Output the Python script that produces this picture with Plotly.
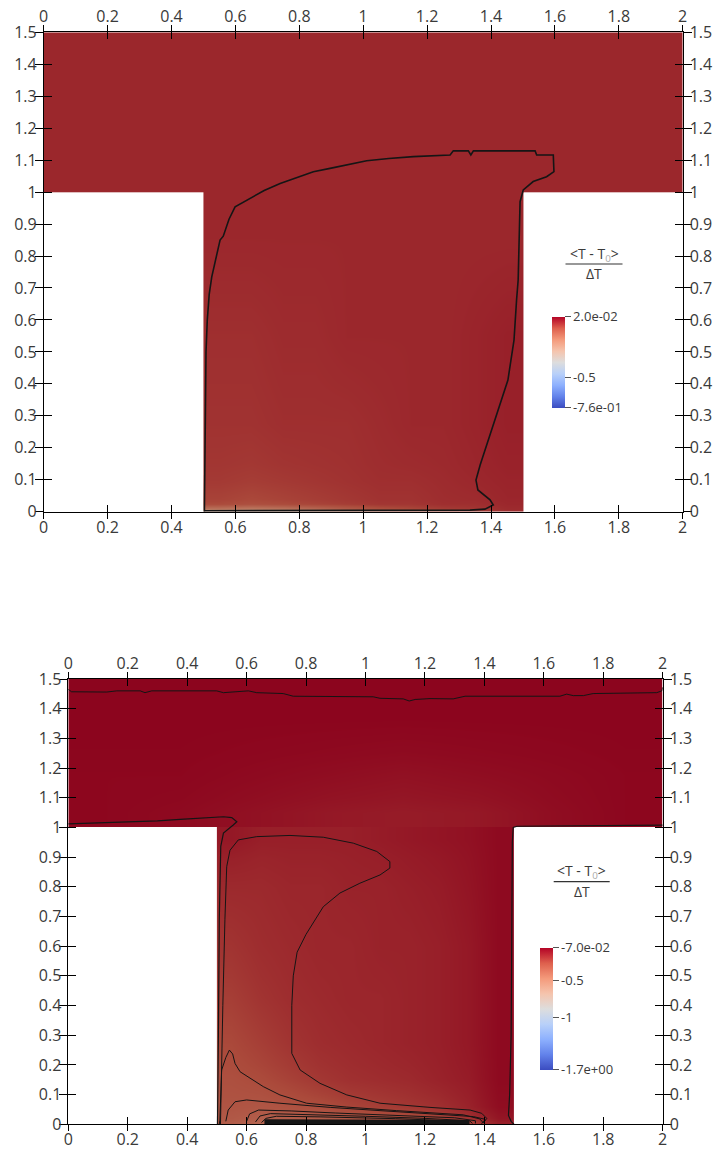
import plotly.graph_objects as go

W, H = 716, 1151

# ---------------- data ----------------
X_TICKS = [0, 0.2, 0.4, 0.6, 0.8, 1.0, 1.2, 1.4, 1.6, 1.8, 2.0]
X_TICK_TEXT = ["0", "0.2", "0.4", "0.6", "0.8", "1", "1.2", "1.4", "1.6", "1.8", "2"]
Y_TICKS = [0, 0.1, 0.2, 0.3, 0.4, 0.5, 0.6, 0.7, 0.8, 0.9, 1.0, 1.1, 1.2, 1.3, 1.4, 1.5]
Y_TICK_TEXT = ["0", "0.1", "0.2", "0.3", "0.4", "0.5", "0.6", "0.7", "0.8", "0.9",
               "1", "1.1", "1.2", "1.3", "1.4", "1.5"]

# colour bar ranges / ticks
TOP_CB_RANGE = [-0.76, 0.02]
TOP_CB_TICKS = [0.02, -0.5, -0.76]
TOP_CB_TEXT = ["2.0e-02", "-0.5", "-7.6e-01"]
BOT_CB_RANGE = [-1.7, -0.07]
BOT_CB_TICKS = [-0.07, -0.5, -1.0, -1.7]
BOT_CB_TEXT = ["-7.0e-02", "-0.5", "-1", "-1.7e+00"]

TOP_BAR_XE = [0.0, 0.5, 1.0, 1.5, 2.0]
TOP_BAR_YE = [1.0, 1.25, 1.5]
TOP_BAR_Z = [[-0.03, -0.03, -0.03, -0.03],
             [-0.03, -0.03, -0.03, -0.03]]
TOP_STEM_XE = [0.5, 0.6, 0.7, 0.8, 0.9, 1.0, 1.1, 1.2, 1.3, 1.4, 1.5]
TOP_STEM_YE = [0.0, 0.01, 0.04, 0.15, 0.4, 0.7, 1.02]
TOP_STEM_Z = [
    [-0.26, -0.28, -0.26, -0.22, -0.17, -0.13, -0.10, -0.08, -0.06, -0.04],
    [-0.08, -0.09, -0.08, -0.07, -0.06, -0.05, -0.05, -0.04, -0.04, -0.03],
    [-0.055, -0.06, -0.055, -0.05, -0.045, -0.04, -0.04, -0.035, -0.03, -0.025],
    [-0.045, -0.045, -0.04, -0.04, -0.04, -0.035, -0.03, -0.03, -0.025, -0.02],
    [-0.04, -0.04, -0.035, -0.035, -0.03, -0.03, -0.03, -0.03, -0.025, -0.02],
    [-0.03, -0.03, -0.03, -0.03, -0.03, -0.03, -0.03, -0.03, -0.03, -0.03],
]

# ---- bottom panel field ----
BOT_BAR_XE = [0.0, 0.25, 0.5, 0.75, 1.0, 1.25, 1.5, 1.75, 2.0]
BOT_BAR_YE = [1.0, 1.1, 1.25, 1.5]
BOT_BAR_Z = [
    [-0.08, -0.09, -0.11, -0.13, -0.14, -0.13, -0.10, -0.08],
    [-0.08, -0.08, -0.09, -0.10, -0.11, -0.10, -0.09, -0.08],
    [-0.075, -0.075, -0.075, -0.075, -0.075, -0.075, -0.075, -0.075],
]
BOT_STEM_XE = [0.5, 0.6, 0.7, 0.8, 0.9, 1.0, 1.1, 1.2, 1.3, 1.4, 1.5]
BOT_STEM_YE = [0.0, 0.02, 0.1, 0.2, 0.35, 0.5, 0.7, 0.9, 1.02]
BOT_STEM_Z = [
    [-0.36, -0.40, -0.42, -0.42, -0.40, -0.38, -0.36, -0.32, -0.25, -0.15],
    [-0.32, -0.33, -0.31, -0.29, -0.26, -0.24, -0.22, -0.20, -0.16, -0.10],
    [-0.30, -0.28, -0.25, -0.22, -0.20, -0.19, -0.18, -0.16, -0.14, -0.09],
    [-0.27, -0.24, -0.21, -0.19, -0.18, -0.17, -0.16, -0.15, -0.13, -0.09],
    [-0.24, -0.21, -0.19, -0.18, -0.17, -0.17, -0.16, -0.15, -0.13, -0.09],
    [-0.21, -0.19, -0.18, -0.17, -0.17, -0.16, -0.16, -0.15, -0.13, -0.09],
    [-0.18, -0.18, -0.17, -0.17, -0.16, -0.16, -0.15, -0.14, -0.12, -0.09],
    [-0.13, -0.15, -0.15, -0.15, -0.15, -0.14, -0.13, -0.12, -0.11, -0.09],
]

# ---- contour lines ----
TOP_C_X = [0.503, 0.504, 0.505, 0.508, 0.512, 0.518, 0.526, 0.540, 0.552, 0.562, 0.580, 0.599,
           0.635, 0.690, 0.740, 0.800, 0.844, 0.900, 0.948, 1.011, 1.080, 1.157, 1.272, 1.282,
           1.329, 1.337, 1.345, 1.538, 1.543, 1.595, 1.597, 1.574, 1.532, 1.501, 1.491, 1.487,
           1.485, 1.480, 1.472, 1.453, 1.422, 1.391, 1.366, 1.353, 1.359, 1.397, 1.407, 1.381,
           1.334, 1.000, 0.700, 0.503]
TOP_C_Y = [0.000, 0.100, 0.300, 0.500, 0.600, 0.680, 0.735, 0.800, 0.850, 0.862, 0.915, 0.954,
           0.975, 1.005, 1.027, 1.048, 1.064, 1.075, 1.085, 1.098, 1.105, 1.111, 1.116, 1.129,
           1.129, 1.116, 1.129, 1.129, 1.116, 1.116, 1.064, 1.048, 1.033, 1.007, 0.970, 0.850,
           0.725, 0.662, 0.537, 0.412, 0.318, 0.224, 0.146, 0.099, 0.068, 0.037, 0.021, 0.008,
           0.005, 0.004, 0.004, 0.003]

B_TOP_X = [0, 0.011, 0.129, 0.163, 0.242, 0.258, 0.281, 0.499, 0.522, 0.578, 0.606, 0.634, 0.723,
           0.757, 0.981, 1.026, 1.049, 1.127, 1.147, 1.167, 1.217, 1.295, 1.335, 1.654, 1.677,
           1.699, 1.733, 1.766, 1.980, 1.997, 2.0]
B_TOP_Y = [1.465, 1.457, 1.456, 1.460, 1.460, 1.454, 1.460, 1.460, 1.454, 1.457, 1.460, 1.454,
           1.451, 1.442, 1.442, 1.440, 1.435, 1.433, 1.426, 1.431, 1.434, 1.433, 1.442, 1.442,
           1.449, 1.444, 1.444, 1.451, 1.454, 1.460, 1.472]

B_LEFT_X = [0.0, 0.1, 0.2, 0.3, 0.376, 0.45, 0.522, 0.550, 0.567, 0.555, 0.522, 0.513, 0.508,
            0.505, 0.503, 0.502]
B_LEFT_Y = [1.012, 1.015, 1.018, 1.022, 1.027, 1.032, 1.036, 1.033, 1.019, 1.008, 0.981, 0.936,
            0.689, 0.300, 0.050, 0.000]

B_RIGHT_X = [2.0, 1.8, 1.6, 1.51, 1.497, 1.494, 1.492, 1.490, 1.485, 1.481, 1.490, 1.500]
B_RIGHT_Y = [1.008, 1.006, 1.005, 1.004, 1.000, 0.950, 0.600, 0.300, 0.100, 0.030, 0.010, 0.000]

B_C_X = [0.512, 0.515, 0.520, 0.527, 0.533, 0.544, 0.572, 0.634, 0.746, 0.858, 0.959, 1.038,
         1.082, 1.082, 1.049, 0.981, 0.914, 0.858, 0.830, 0.800, 0.770, 0.757, 0.752, 0.752,
         0.780, 0.847, 0.937, 1.049, 1.217, 1.352, 1.391, 1.408, 1.402, 1.390]
B_C_Y = [0.000, 0.200, 0.400, 0.689, 0.868, 0.923, 0.958, 0.969, 0.973, 0.967, 0.947, 0.919,
         0.885, 0.863, 0.840, 0.812, 0.779, 0.733, 0.689, 0.640, 0.580, 0.500, 0.400, 0.239,
         0.183, 0.138, 0.099, 0.071, 0.057, 0.048, 0.037, 0.020, 0.011, 0.003]

B_SPIKE_X = [0.508, 0.510, 0.516, 0.530, 0.542, 0.553, 0.561, 0.578, 0.656, 0.712, 0.802, 0.937,
             1.105, 1.329, 1.385, 1.396]
B_SPIKE_Y = [0.000, 0.014, 0.183, 0.225, 0.250, 0.237, 0.205, 0.177, 0.127, 0.099, 0.071, 0.058,
             0.046, 0.032, 0.018, 0.005]

B_L1_X = [0.530, 0.538, 0.561, 0.600, 0.712, 0.881, 1.049, 1.217, 1.363, 1.402, 1.396]
B_L1_Y = [0.010, 0.048, 0.076, 0.082, 0.071, 0.057, 0.046, 0.035, 0.026, 0.017, 0.005]
B_L2_X = [0.600, 0.610, 0.640, 0.750, 0.900, 1.100, 1.300, 1.370, 1.370]
B_L2_Y = [0.010, 0.035, 0.048, 0.045, 0.038, 0.030, 0.022, 0.012, 0.003]
B_L3_X = [0.630, 0.645, 0.680, 0.800, 1.000, 1.200, 1.350, 1.360]
B_L3_Y = [0.008, 0.028, 0.036, 0.033, 0.027, 0.020, 0.012, 0.003]
B_L4_X = [0.650, 0.665, 0.700, 0.850, 1.100, 1.340, 1.345]
B_L4_Y = [0.006, 0.020, 0.027, 0.025, 0.019, 0.010, 0.003]
B_BAND_X = [0.66, 0.80, 1.00, 1.20, 1.35]
B_BAND_Y = [0.009, 0.009, 0.008, 0.007, 0.006]

# ---------------- styling helpers ----------------
COOLWARM = [(0.0, (59, 76, 192)), (0.125, (98, 130, 234)), (0.25, (141, 176, 254)),
            (0.375, (184, 208, 249)), (0.5, (221, 221, 221)), (0.625, (245, 196, 173)),
            (0.75, (244, 154, 123)), (0.875, (222, 96, 77)), (1.0, (180, 4, 38))]
SHADE = 0.77
CB_SCALE = [[p, "rgb(%d,%d,%d)" % c] for p, c in COOLWARM]
FIELD_SCALE = [[p, "rgb(%d,%d,%d)" % tuple(int(round(v * SHADE)) for v in c)] for p, c in COOLWARM]

FONT = "Open Sans"
TXT = "#3a3a3a"

fig = go.Figure()


def px_x(p):
    return p / W


def px_y(p):
    return 1 - p / H


panels = [
    dict(sfx="", ov=("3", "5", "7"), dx=[px_x(43.7), px_x(682.7)], dy=[px_y(511.7), px_y(32.3)],
         rng=TOP_CB_RANGE, bar=(TOP_BAR_XE, TOP_BAR_YE, TOP_BAR_Z),
         stem=(TOP_STEM_XE, TOP_STEM_YE, TOP_STEM_Z)),
    dict(sfx="2", ov=("4", "6", "8"), dx=[px_x(68.3), px_x(662.7)], dy=[px_y(1124.3), px_y(679.0)],
         rng=BOT_CB_RANGE, bar=(BOT_BAR_XE, BOT_BAR_YE, BOT_BAR_Z),
         stem=(BOT_STEM_XE, BOT_STEM_YE, BOT_STEM_Z)),
]

layout_axes = {}
for pn in panels:
    s = pn["sfx"]
    xa, ya = "x" + s, "y" + s
    for xe, ye, z in (pn["stem"], pn["bar"]):
        fig.add_trace(go.Heatmap(x=xe, y=ye, z=z, colorscale=FIELD_SCALE, zmin=pn["rng"][0],
                                 zmax=pn["rng"][1], zsmooth="best", showscale=False,
                                 hoverinfo="skip", xaxis=xa, yaxis=ya))
    base = dict(range=[0, 2], showline=False, linecolor="black", linewidth=1, showgrid=False,
                zeroline=False, tickvals=X_TICKS, ticktext=X_TICK_TEXT, ticks="",
                tickcolor="black", tickwidth=1, automargin=False, showticklabels=False,
                tickfont=dict(family=FONT, size=16, color=TXT), domain=pn["dx"])
    basey = dict(range=[0, 1.5], showline=False, linecolor="black", linewidth=1, showgrid=False,
                 zeroline=False, tickvals=Y_TICKS, ticktext=Y_TICK_TEXT, ticks="",
                 tickcolor="black", tickwidth=1, automargin=False, showticklabels=False,
                 tickfont=dict(family=FONT, size=16, color=TXT), domain=pn["dy"])
    i_in, i_lab1, i_lab2 = pn["ov"]
    # main axes: frame line + outside half of the cross ticks on all four sides
    layout_axes["xaxis" + s] = dict(base, anchor=ya, mirror="allticks", showline=True,
                                    ticks="outside", ticklen=6)
    layout_axes["yaxis" + s] = dict(basey, anchor=xa, mirror="allticks", showline=True,
                                    ticks="outside", ticklen=8)
    # inside half of the cross ticks
    layout_axes["xaxis" + i_in] = dict(base, anchor=ya, overlaying=xa, ticks="inside", ticklen=7,
                                      mirror="allticks")
    layout_axes["yaxis" + i_in] = dict(basey, anchor=xa, overlaying=ya, ticks="inside", ticklen=8,
                                      mirror="allticks")
    # labels: bottom/left and top/right
    layout_axes["xaxis" + i_lab1] = dict(base, anchor=ya, overlaying=xa, side="bottom",
                                        showticklabels=True, ticklabelstandoff=4)
    layout_axes["yaxis" + i_lab1] = dict(basey, anchor=xa, overlaying=ya, side="left",
                                        showticklabels=True, ticklabelstandoff=6)
    layout_axes["xaxis" + i_lab2] = dict(base, anchor=ya, overlaying=xa, side="top",
                                        showticklabels=True, ticklabelstandoff=6)
    layout_axes["yaxis" + i_lab2] = dict(basey, anchor=xa, overlaying=ya, side="right",
                                        showticklabels=True, ticklabelstandoff=6)
    for a in (i_in, i_lab1, i_lab2):
        fig.add_trace(go.Scatter(x=[None], y=[None], xaxis="x" + a, yaxis="y" + a,
                                 showlegend=False, hoverinfo="skip"))

# contour lines
LINE = "#151515"
fig.add_trace(go.Scatter(x=TOP_C_X, y=TOP_C_Y, mode="lines", line=dict(color=LINE, width=1.6),
                         showlegend=False, hoverinfo="skip", xaxis="x", yaxis="y"))
for lx, ly, w in [(B_TOP_X, B_TOP_Y, 1.0), (B_LEFT_X, B_LEFT_Y, 1.2), (B_RIGHT_X, B_RIGHT_Y, 1.2),
                  (B_C_X, B_C_Y, 1.0), (B_SPIKE_X, B_SPIKE_Y, 1.0), (B_L1_X, B_L1_Y, 1.0),
                  (B_L2_X, B_L2_Y, 1.0), (B_L3_X, B_L3_Y, 1.0), (B_L4_X, B_L4_Y, 1.0),
                  (B_BAND_X, B_BAND_Y, 5.0)]:
    fig.add_trace(go.Scatter(x=lx, y=ly, mode="lines", line=dict(color=LINE, width=w),
                             showlegend=False, hoverinfo="skip", xaxis="x2", yaxis="y2"))

# colour bars
cb_font = dict(family=FONT, size=13, color=TXT)
for xa, ya, rng, tv, tt, x0, yc, ln in [
        ("x", "y", TOP_CB_RANGE, TOP_CB_TICKS, TOP_CB_TEXT, 552, 362.2, 91),
        ("x2", "y2", BOT_CB_RANGE, BOT_CB_TICKS, BOT_CB_TEXT, 540, 1008.9, 122.3)]:
    fig.add_trace(go.Scatter(
        x=[None], y=[None], mode="markers", xaxis=xa, yaxis=ya, showlegend=False, hoverinfo="skip",
        marker=dict(color=[rng[0]], cmin=rng[0], cmax=rng[1], colorscale=CB_SCALE, showscale=True,
                    colorbar=dict(x=px_x(x0), xanchor="left", y=px_y(yc), yanchor="middle",
                                  len=ln, lenmode="pixels", thickness=13, thicknessmode="pixels",
                                  xpad=0, ypad=0, outlinewidth=0, tickvals=tv, ticktext=tt,
                                  ticks="outside", ticklen=6, tickcolor="#555",
                                  tickfont=cb_font))))

# colour-bar titles
annotations = []
shapes = []
for cx, y1, yl, y2, half in [(594, 255, 264, 273, 28.5), (581.7, 871.7, 881.7, 891.7, 28)]:
    annotations.append(dict(x=px_x(cx), y=px_y(y1), xref="paper", yref="paper", showarrow=False,
                            text="&lt;T - T<sub><span style='color:#aaaaaa'>0</span></sub>&gt;",
                            font=dict(family=FONT, size=14, color=TXT), xanchor="center",
                            yanchor="middle"))
    annotations.append(dict(x=px_x(cx), y=px_y(y2), xref="paper", yref="paper", showarrow=False,
                            text="ΔT", font=dict(family=FONT, size=14, color=TXT),
                            xanchor="center", yanchor="middle"))
    shapes.append(dict(type="line", xref="paper", yref="paper", x0=px_x(cx - half),
                       x1=px_x(cx + half), y0=px_y(yl), y1=px_y(yl),
                       line=dict(color="#333", width=1.2)))

fig.update_layout(width=W, height=H, margin=dict(l=0, r=0, t=0, b=0, autoexpand=False),
                  paper_bgcolor="white", plot_bgcolor="white", showlegend=False,
                  annotations=annotations, shapes=shapes, **layout_axes)

fig.write_html("out.html")
